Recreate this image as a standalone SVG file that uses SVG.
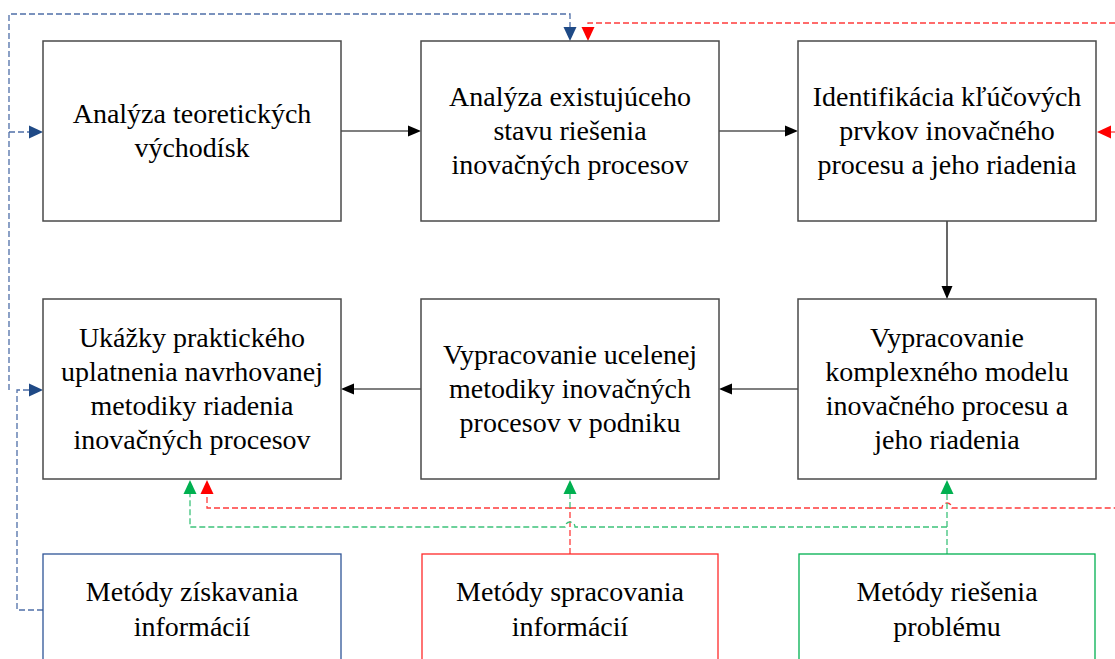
<svg xmlns="http://www.w3.org/2000/svg" width="1115" height="659" viewBox="0 0 1115 659">
<style>
.box{fill:#fff;stroke:#4a4a4a;stroke-width:1.5}
.t{font-family:"Liberation Serif","Times New Roman",serif;font-size:28px;fill:#000;text-anchor:middle}
.solid{fill:none;stroke:#000;stroke-width:1.2}
.db{fill:none;stroke:#4f6fa8;stroke-width:1.3;stroke-dasharray:6 3}
.dr{fill:none;stroke:#ff3b3b;stroke-width:1.3;stroke-dasharray:6 3}
.dg{fill:none;stroke:#3cc27a;stroke-width:1.3;stroke-dasharray:6 3}
</style>
<rect width="1115" height="659" fill="#fff"/>
<g id="connectors">
  <line class="solid" x1="341" y1="131" x2="410" y2="131"/>
  <polygon points="421,131 408,125.5 408,136.5" fill="#000"/>
  <line class="solid" x1="719" y1="131" x2="787" y2="131"/>
  <polygon points="798,131 785,125.5 785,136.5" fill="#000"/>
  <line class="solid" x1="947" y1="221" x2="947" y2="288"/>
  <polygon points="947,299 941.5,286 952.5,286" fill="#000"/>
  <line class="solid" x1="798" y1="389" x2="730" y2="389"/>
  <polygon points="719,389 732,383.5 732,394.5" fill="#000"/>
  <line class="solid" x1="421" y1="389" x2="352" y2="389"/>
  <polygon points="341,389 354,383.5 354,394.5" fill="#000"/>
  <polyline class="db" points="9,390 9,14 570,14 570,28"/>
  <polygon points="570,41 563.5,27 576.5,27" fill="#1f4a86"/>
  <polyline class="db" points="9,132 30,132"/>
  <polygon points="43,132 29,125.5 29,138.5" fill="#1f4a86"/>
  <polyline class="db" points="43,610 17,610 17,390 30,390"/>
  <polygon points="43,390 29,383.5 29,396.5" fill="#1f4a86"/>
  <polyline class="dr" points="1115,23 588,23 588,28"/>
  <polygon points="588,41 581.5,27 594.5,27" fill="#ff0000"/>
  <polyline class="dr" points="1115,132 1111,132"/>
  <polygon points="1097,132 1111,125.5 1111,138.5" fill="#ff0000"/>
  <polyline class="dr" points="570,554 570,508 207,508 207,494"/>
  <polygon points="207,480 200.5,494 213.5,494" fill="#ff0000"/>
  <path class="dr" d="M570,508 H942 A5,5 0 0 1 952,508 H1115"/>
  <polyline class="dg" points="947,554 947,494"/>
  <polygon points="947,480 940.5,494 953.5,494" fill="#00b050"/>
  <path class="dg" d="M947,527 H575 A5,5 0 0 0 565,527 H190 V494"/>
  <polygon points="190,480 183.5,494 196.5,494" fill="#00b050"/>
  <polyline class="dg" points="570,508 570,494"/>
  <polygon points="570,480 563.5,494 576.5,494" fill="#00b050"/>
</g>
<g id="n1"><rect class="box" x="43" y="41" width="298" height="180"/>
<text class="t" x="192" y="123">Analýza teoretických</text><text class="t" x="192" y="157">východísk</text></g>
<g id="n2"><rect class="box" x="421" y="41" width="298" height="180"/>
<text class="t" x="570" y="106">Analýza existujúceho</text><text class="t" x="570" y="140">stavu riešenia</text><text class="t" x="570" y="174">inovačných procesov</text></g>
<g id="n3"><rect class="box" x="798" y="41" width="298" height="180"/>
<text class="t" x="947" y="106">Identifikácia kľúčových</text><text class="t" x="947" y="140">prvkov inovačného</text><text class="t" x="947" y="174">procesu a jeho riadenia</text></g>
<g id="n4"><rect class="box" x="43" y="299" width="298" height="180"/>
<text class="t" x="192" y="347">Ukážky praktického</text><text class="t" x="192" y="381">uplatnenia navrhovanej</text><text class="t" x="192" y="415">metodiky riadenia</text><text class="t" x="192" y="449">inovačných procesov</text></g>
<g id="n5"><rect class="box" x="421" y="299" width="298" height="180"/>
<text class="t" x="570" y="364">Vypracovanie ucelenej</text><text class="t" x="570" y="398">metodiky inovačných</text><text class="t" x="570" y="432">procesov v podniku</text></g>
<g id="n6"><rect class="box" x="798" y="299" width="298" height="180"/>
<text class="t" x="947" y="347">Vypracovanie</text><text class="t" x="947" y="381">komplexného modelu</text><text class="t" x="947" y="415">inovačného procesu a</text><text class="t" x="947" y="449">jeho riadenia</text></g>
<g id="n7"><rect x="43" y="554" width="298" height="120" fill="#fff" stroke="#2f5597" stroke-width="1.3"/>
<text class="t" x="192" y="601">Metódy získavania</text><text class="t" x="192" y="636">informácií</text></g>
<g id="n8"><rect x="422" y="554" width="296" height="120" fill="#fff" stroke="#ff2a2a" stroke-width="1.3"/>
<text class="t" x="570" y="601">Metódy spracovania</text><text class="t" x="570" y="636">informácií</text></g>
<g id="n9"><rect x="799" y="554" width="296" height="120" fill="#fff" stroke="#00b050" stroke-width="1.3"/>
<text class="t" x="947" y="601">Metódy riešenia</text><text class="t" x="947" y="636">problému</text></g>
</svg>
